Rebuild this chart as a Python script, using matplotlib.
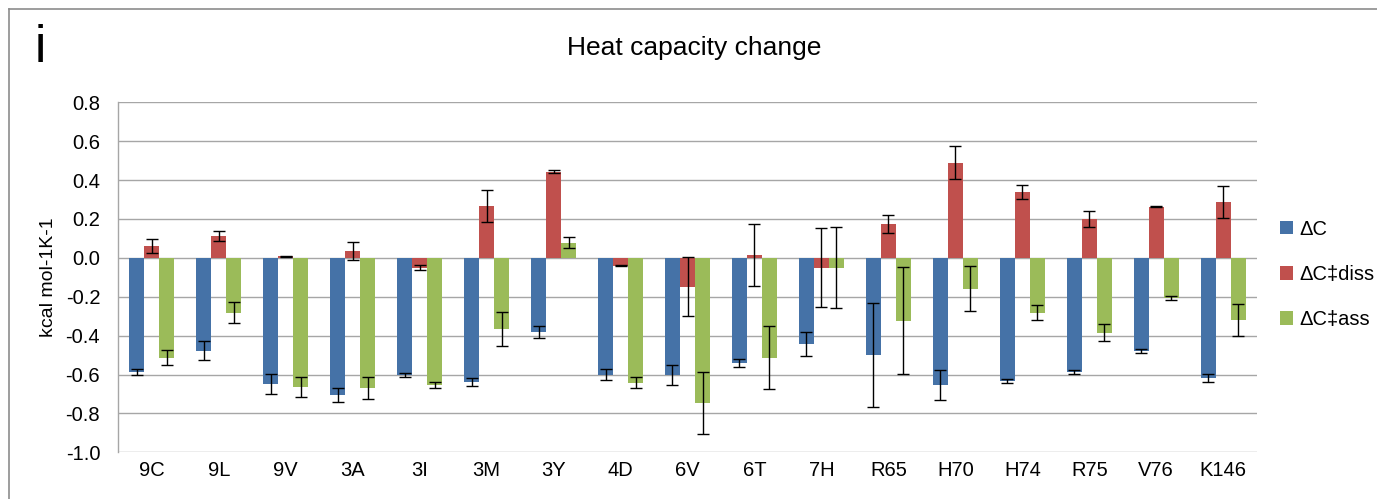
import matplotlib
matplotlib.use("Agg")
import matplotlib.pyplot as plt
import numpy as np
from matplotlib.lines import Line2D

plt.rcParams['font.family'] = ['Liberation Sans', 'DejaVu Sans']

categories = ["9C", "9L", "9V", "3A", "3I", "3M", "3Y", "4D", "6V", "6T",
              "7H", "R65", "H70", "H74", "R75", "V76", "K146"]

dc = [-0.587, -0.478, -0.649, -0.705, -0.602, -0.638, -0.380, -0.602, -0.602,
      -0.540, -0.442, -0.499, -0.654, -0.633, -0.587, -0.478, -0.618]
dc_err = [0.017, 0.048, 0.050, 0.037, 0.009, 0.022, 0.032, 0.028, 0.052,
          0.020, 0.061, 0.268, 0.076, 0.009, 0.010, 0.009, 0.020]

dc_diss = [0.062, 0.114, 0.007, 0.036, -0.050, 0.268, 0.444, -0.040, -0.148,
           0.015, -0.050, 0.175, 0.490, 0.341, 0.201, 0.263, 0.289]
dc_diss_err = [0.037, 0.025, 0.003, 0.045, 0.011, 0.083, 0.007, 0.003, 0.152,
               0.158, 0.202, 0.047, 0.087, 0.036, 0.040, 0.003, 0.083]

dc_ass = [-0.514, -0.282, -0.664, -0.669, -0.654, -0.365, 0.077, -0.643, -0.747,
          -0.514, -0.050, -0.323, -0.158, -0.282, -0.385, -0.208, -0.320]
dc_ass_err = [0.039, 0.053, 0.050, 0.058, 0.014, 0.086, 0.028, 0.028, 0.160,
              0.161, 0.208, 0.274, 0.117, 0.039, 0.043, 0.010, 0.084]

series_labels = ["ΔC", "ΔC‡diss", "ΔC‡ass"]
colors = ["#4572A7", "#C0504D", "#9BBB59"]
yticks = [0.8, 0.6, 0.4, 0.2, 0.0, -0.2, -0.4, -0.6, -0.8, -1.0]

W, H = 1377, 499
fig = plt.figure(figsize=(W / 100, H / 100), dpi=100)
ax = fig.add_axes([118.3 / W, 1 - 452.3 / H, (1256.7 - 118.3) / W, 350 / H])

x = np.arange(len(categories))
width = 0.224
grid_color = "#A6A6A6"

for yv in yticks:
    ax.axhline(yv, color=grid_color, lw=1.0, zorder=0)

series = [(dc, dc_err), (dc_diss, dc_diss_err), (dc_ass, dc_ass_err)]
handles = []
for i, ((vals, errs), col, lab) in enumerate(zip(series, colors, series_labels)):
    pos = x + (i - 1) * width
    bars = ax.bar(pos, vals, width=width, color=col, label=lab, zorder=2)
    ax.errorbar(pos, vals, yerr=errs, fmt='none', ecolor='black', elinewidth=1.0,
                capsize=4, capthick=1.0, zorder=3)
    handles.append(bars)

tick_fs = 14.5
ax.set_xlim(-0.5, len(categories) - 0.5)
ax.set_ylim(-1.0, 0.8)
ax.set_yticks(yticks)
ax.set_yticklabels([f"{v:.1f}" for v in yticks], fontsize=tick_fs)
ax.set_xticks(x)
ax.set_xticklabels(categories, fontsize=tick_fs)
ax.tick_params(axis='both', length=0)
ax.tick_params(axis='x', pad=6)
ax.tick_params(axis='y', pad=13)

for side in ["top", "right", "bottom"]:
    ax.spines[side].set_visible(False)
ax.spines["left"].set_color(grid_color)
ax.spines["left"].set_linewidth(1.0)

ax.set_ylabel("kcal mol-1K-1", fontsize=14, labelpad=6)

fig.text(694 / W, 1 - 48 / H, "Heat capacity change", fontsize=19,
         ha="center", va="center")
fig.text(35 / W, 1 - 48 / H, "i", fontsize=37, ha="left", va="center")

ax.legend(handles=handles, labels=series_labels, loc="center left",
          bbox_to_anchor=(1.013, 0.508), frameon=False, fontsize=tick_fs,
          handlelength=0.65, handleheight=0.65, handletextpad=0.35,
          labelspacing=1.3, borderaxespad=0)

# outer frame (top and left edges)
fig.add_artist(Line2D([9 / W, 1.0], [1 - 9 / H, 1 - 9 / H],
                      transform=fig.transFigure, color="#8C8C8C", lw=1.2))
fig.add_artist(Line2D([9 / W, 9 / W], [0.0, 1 - 9 / H],
                      transform=fig.transFigure, color="#8C8C8C", lw=1.2))

fig.savefig("out.png", dpi=100)
